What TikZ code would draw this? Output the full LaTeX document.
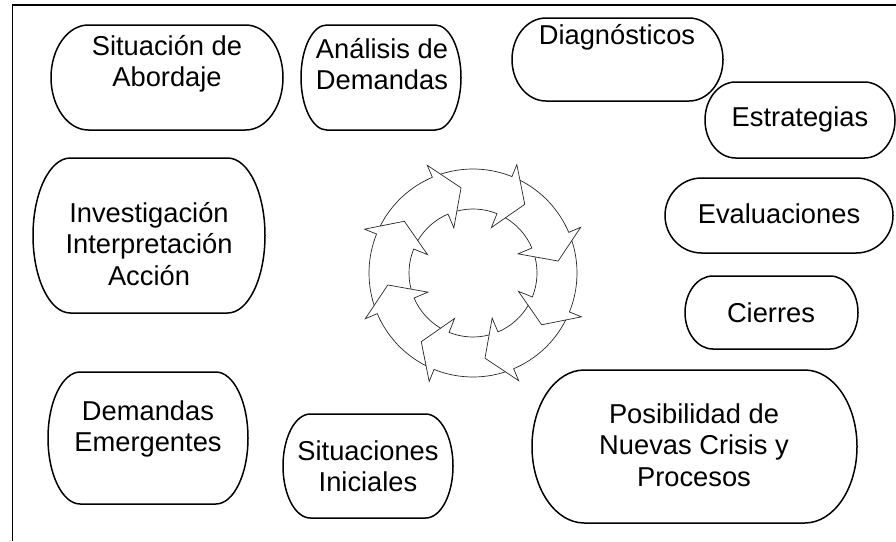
\documentclass[tikz,border=0pt]{standalone}
\usepackage{fontspec}
\setmainfont{Liberation Sans}
\tikzset{
  termline/.style={draw=black, line width=1.5pt, fill=white},
  termtext/.style={align=center, font=\fontsize{27.3}{31.5}\selectfont, inner sep=0pt},
  ringline/.style={draw=black!85, line width=0.7pt, line join=miter},
  frameline/.style={draw=black, line width=1.6pt},
}
% #1 name, #2 x1, #3 y1, #4 x2, #5 y2, #6 text x, #7 text y, #8 text
\newcommand\termbox[8]{%
  \pgfmathsetmacro\trx{0.161*(#4-#2)}%
  \pgfmathsetmacro\try{(#5-#3)/2}%
  \draw[termline] ({#2+\trx},#3) -- ({#4-\trx},#3)
    arc[start angle=90, end angle=-90, x radius=\trx pt, y radius=\try pt]
    -- ({#2+\trx},#5)
    arc[start angle=270, end angle=90, x radius=\trx pt, y radius=\try pt] -- cycle;
  \node[termtext] (#1) at (#6,#7) {#8};
}
\begin{document}
\begin{tikzpicture}[x=1pt,y=-1pt]
\useasboundingbox (0,0) rectangle (896,541);
% frame
\coordinate (fbl) at (12.5,541);
\coordinate (ftl) at (12.5,5);
\coordinate (ftr) at (896,5);
\draw[frameline] (fbl) -- (ftl) -- (ftr);

% ring of circular arrows
\coordinate (rc) at (473,273);
\begin{scope}[shift={(rc)}]
\foreach \k in {0,...,7}{
  \pgfmathsetmacro\ra{68+45*\k}
  \pgfmathsetmacro\rb{\ra+40.16}
  \pgfmathsetmacro\rcc{\ra+36.6}
  \pgfmathsetmacro\rt{\ra-15}
  \draw[ringline] (\rb:104pt) arc[start angle=\rb, end angle=\ra, radius=104pt]
    -- (\ra:117pt) -- (\rt:86pt) -- (\ra:49pt) -- (\ra:64pt)
    arc[start angle=\ra, end angle=\rcc, radius=64pt];
}
\end{scope}

\termbox{s1}{51}{25}{283}{130}{167}{64}{Situación de\\Abordaje}
\termbox{s2}{301}{25}{461}{130}{382}{64}{Análisis de\\Demandas}
\termbox{s3}{512}{18}{723}{101}{617}{37}{Diagnósticos}
\termbox{s4}{705}{82}{895}{158}{800}{119}{Estrategias}
\termbox{s5}{665}{178}{893}{253}{779}{214}{Evaluaciones}
\termbox{s6}{685}{276}{858}{349}{771}{313}{Cierres}
\termbox{s7}{33}{158}{265}{313}{149}{244}{Investigación\\Interpretación\\Acción}
\termbox{s8}{48}{372}{248}{504}{148}{429}{Demandas\\Emergentes}
\termbox{s9}{283}{414}{453}{518}{368}{466}{Situaciones\\Iniciales}
\termbox{s10}{532}{370}{857}{523}{694}{445}{Posibilidad de\\Nuevas Crisis y\\Procesos}
\end{tikzpicture}
\end{document}
